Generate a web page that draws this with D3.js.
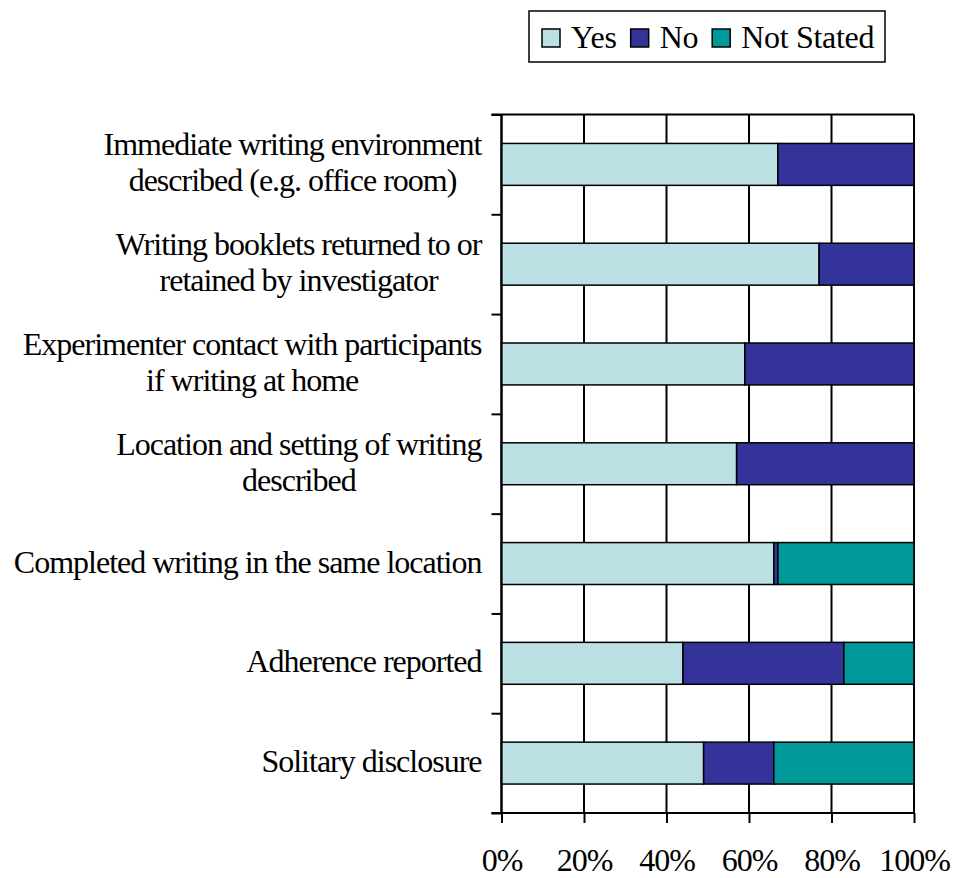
<html>
<head>
<meta charset="utf-8">
<title>Stacked bars</title>
<style>
  body { margin: 0; background: #fff; }
  text { font-family: "Liberation Serif", "Times New Roman", serif; fill: #000; }
</style>
</head>
<body>
<script src="https://cdn.jsdelivr.net/npm/d3@7/dist/d3.min.js"></script>
<script>
var width = 962, height = 878;

// label lines per category (top to bottom)
var categories = [
  ["Immediate writing environment", "described (e.g. office room)"],
  ["Writing booklets returned to or", "retained by investigator"],
  ["Experimenter contact with participants", "if writing at home"],
  ["Location and setting of writing", "described"],
  ["Completed writing in the same location"],
  ["Adherence reported"],
  ["Solitary disclosure"]
];
var yes       = [67, 77, 59, 57, 66, 44, 49];
var no        = [33, 23, 41, 43, 1, 39, 17];
var notStated = [0, 0, 0, 0, 33, 17, 34];
var seriesNames = ["Yes", "No", "Not Stated"];
var xTicks = [0, 0.2, 0.4, 0.6, 0.8, 1];

var colors = ["#BBE0E3", "#333399", "#009999"];

var margin = {left: 501.5, right: 48, top: 114.5, bottom: 65};

var svg = d3.select("body").append("svg")
    .attr("width", width)
    .attr("height", height);

var x = d3.scaleLinear().domain([0, 1]).range([margin.left, width - margin.right]);
var y = d3.scaleBand().domain(d3.range(categories.length))
    .range([margin.top, height - margin.bottom]).paddingInner(0.58).paddingOuter(0.29);
var yEdge = d3.scaleLinear().domain([0, categories.length]).range([margin.top, height - margin.bottom]);

var rows = categories.map(function(c, i) {
  var t = yes[i] + no[i] + notStated[i];
  return {i: i, "Yes": yes[i] / t, "No": no[i] / t, "Not Stated": notStated[i] / t};
});
var stack = d3.stack().keys(seriesNames)(rows);

// plot frame + vertical gridlines
svg.append("g").selectAll("line").data(xTicks).enter().append("line")
  .attr("x1", function(d){ return x(d); })
  .attr("x2", function(d){ return x(d); })
  .attr("y1", margin.top).attr("y2", height - margin.bottom)
  .attr("stroke", "#000").attr("stroke-width", 2);
svg.append("line")
  .attr("x1", margin.left - 10).attr("x2", x(1))
  .attr("y1", margin.top).attr("y2", margin.top)
  .attr("stroke", "#000").attr("stroke-width", 2);

// bars
svg.append("g").selectAll("g").data(stack).enter().append("g")
  .attr("fill", function(d, i){ return colors[i]; })
  .selectAll("rect").data(function(d){ return d; }).enter().append("rect")
  .attr("x", function(d){ return x(d[0]); })
  .attr("width", function(d){ return x(d[1]) - x(d[0]); })
  .attr("y", function(d){ return y(d.data.i); })
  .attr("height", y.bandwidth())
  .attr("stroke", "#000").attr("stroke-width", 1.5)
  .style("display", function(d){ return d[1] - d[0] > 0 ? null : "none"; });

// left axis with ticks at band edges
var yAxis = svg.append("g")
  .attr("transform", "translate(" + margin.left + ",0)")
  .call(d3.axisLeft(yEdge).ticks(categories.length).tickSize(10).tickFormat(""));
yAxis.select(".domain").remove();
yAxis.selectAll("line").attr("stroke-width", 2);
svg.append("line")
  .attr("x1", margin.left).attr("x2", margin.left)
  .attr("y1", margin.top).attr("y2", height - margin.bottom)
  .attr("stroke", "#000").attr("stroke-width", 2);

// bottom axis
var xAxis = svg.append("g")
  .attr("transform", "translate(0," + (height - margin.bottom) + ")")
  .call(d3.axisBottom(x).tickValues(xTicks).tickSize(10).tickPadding(25)
    .tickFormat(d3.format(".0%")));
xAxis.select(".domain").remove();
xAxis.selectAll("line").attr("stroke-width", 2);
xAxis.selectAll("text").style("font-size", "32px").style("letter-spacing", "-1px")
  .style("font-family", "'Liberation Serif', serif");
svg.append("line")
  .attr("x1", margin.left - 10).attr("x2", x(1))
  .attr("y1", height - margin.bottom).attr("y2", height - margin.bottom)
  .attr("stroke", "#000").attr("stroke-width", 2);

// category labels: lines centred together, block right-aligned
var labels = svg.append("g").selectAll("text").data(categories).enter().append("text")
  .style("font-size", "32px").style("letter-spacing", "-1px")
  .attr("text-anchor", "middle");
labels.each(function(lines, i) {
  var t = d3.select(this);
  var cy = y(i) + y.bandwidth() / 2;
  var lh = 36;
  var first = cy + 9 - (lines.length - 1) * lh / 2;
  var w = 0;
  lines.forEach(function(l, k) {
    var ts = t.append("tspan").attr("x", 0).attr("y", first + k * lh).text(l);
    w = Math.max(w, ts.node().getComputedTextLength());
  });
  t.selectAll("tspan").attr("x", margin.left - 20 - w / 2);
});

// legend
var leg = svg.append("g");
leg.append("rect").attr("x", 529).attr("y", 11).attr("width", 356).attr("height", 51)
  .attr("fill", "#fff").attr("stroke", "#000").attr("stroke-width", 1.5);
var lx = 542;
seriesNames.forEach(function(s, i) {
  leg.append("rect").attr("x", lx).attr("y", 29).attr("width", 18).attr("height", 18)
    .attr("fill", colors[i]).attr("stroke", "#000").attr("stroke-width", 1.5);
  var tx = leg.append("text").attr("x", lx + 29).attr("y", 48)
    .style("font-size", "32px").style("letter-spacing", "-0.3px").text(s);
  lx += 29 + tx.node().getComputedTextLength() + 14;
});
</script>
</body>
</html>
